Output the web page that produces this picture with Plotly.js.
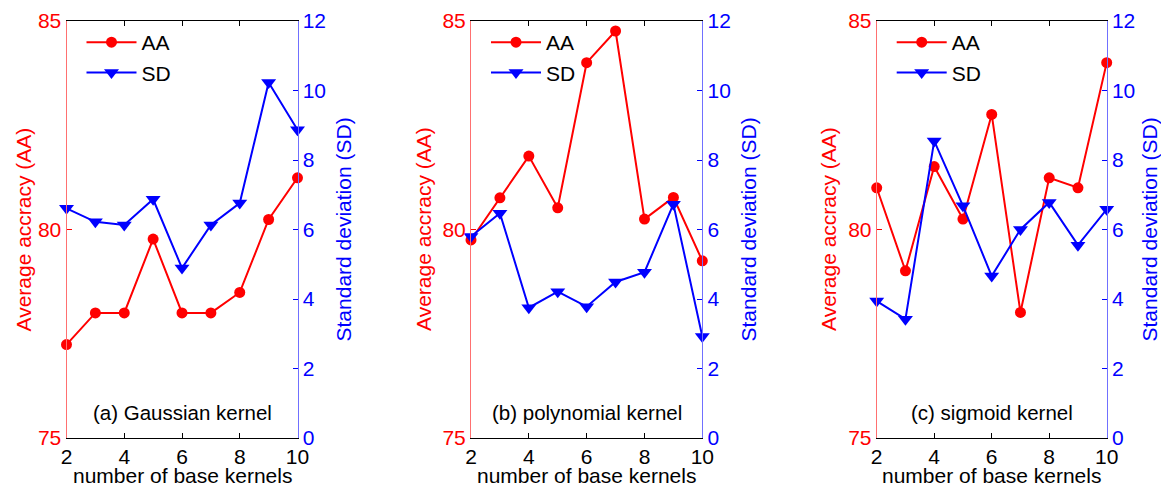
<!DOCTYPE html>
<html>
<head>
<meta charset="utf-8">
<script src="https://cdn.plot.ly/plotly-3.0.1.min.js"></script>
<style>html,body{margin:0;padding:0;background:#fff;}#chart{width:1161px;height:488px;}</style>
</head>
<body>
<div id="chart"></div>
<script>
const numKernels = [2, 3, 4, 5, 6, 7, 8, 9, 10];
const panelLabels = ["(a) Gaussian kernel", "(b) polynomial kernel", "(c) sigmoid kernel"];
const aaGaussian = [77.24, 78.0, 78.0, 79.77, 78.0, 78.0, 78.49, 80.24, 81.24];
const sdGaussian = [6.61, 6.22, 6.13, 6.87, 4.89, 6.13, 6.76, 10.23, 8.87];
const aaPolynomial = [79.75, 80.76, 81.76, 80.52, 84.0, 84.76, 80.25, 80.77, 79.25];
const sdPolynomial = [5.80, 6.47, 3.75, 4.21, 3.78, 4.49, 4.77, 6.73, 2.92];
const aaSigmoid = [81.0, 79.01, 81.51, 80.25, 82.76, 78.01, 81.24, 81.0, 84.0];
const sdSigmoid = [3.94, 3.42, 8.55, 6.68, 4.66, 6.0, 6.78, 5.55, 6.58];
const aaTicks = [75, 80, 85];
const sdTicks = [0, 2, 4, 6, 8, 10, 12];
const xTicks = [2, 4, 6, 8, 10];
const xTitle = "number of base kernels";
const aaTitle = "Average accracy (AA)";
const sdTitle = "Standard deviation (SD)";

const aaSeries = [aaGaussian, aaPolynomial, aaSigmoid];
const sdSeries = [sdGaussian, sdPolynomial, sdSigmoid];

const W = 1161, H = 488;
const FONT = "Liberation Sans, Arial, Helvetica, sans-serif";
const FS = 21;
const RED = "#ff0000", BLUE = "#0000ff";
const panelPx = [[66.5, 297.5], [471, 702.3], [876.7, 1106.7]];
const leftTitlePx = [23, 423.5, 828.5];
const rightTitlePx = [343, 748, 1149];
const yDom = [1 - 438 / H, 1 - 21 / H];

const data = [];
const layout = {
  width: W, height: H,
  margin: {l: 0, r: 0, t: 0, b: 0},
  paper_bgcolor: "#fff", plot_bgcolor: "rgba(0,0,0,0)",
  font: {family: FONT, size: FS, color: "#000"},
  showlegend: true,
  annotations: []
};

for (let i = 0; i < 3; i++) {
  const xa = i === 0 ? "x" : "x" + (i + 1);
  const yL = "y" + (i === 0 ? "" : (2 * i + 1));
  const yR = "y" + (2 * i + 2);
  const legendName = i === 0 ? "legend" : "legend" + (i + 1);
  data.push({
    x: numKernels, y: aaSeries[i], xaxis: xa, yaxis: yL, name: "AA",
    type: "scatter", mode: "lines+markers", cliponaxis: false,
    line: {color: RED, width: 2}, marker: {symbol: "circle", size: 11, color: RED},
    legend: legendName
  });
  data.push({
    x: numKernels, y: sdSeries[i], xaxis: xa, yaxis: yR, name: "SD",
    type: "scatter", mode: "lines+markers", cliponaxis: false,
    line: {color: BLUE, width: 2}, marker: {symbol: "triangle-down", size: 13, color: BLUE},
    legend: legendName
  });
  const dom = [panelPx[i][0] / W, panelPx[i][1] / W];
  const xKey = i === 0 ? "xaxis" : "xaxis" + (i + 1);
  const yLKey = i === 0 ? "yaxis" : "yaxis" + (2 * i + 1);
  const yRKey = "yaxis" + (2 * i + 2);
  layout[xKey] = {
    domain: dom, anchor: yL, range: [2, 10], tickvals: xTicks,
    ticks: "inside", ticklen: 5, tickcolor: "#000", showline: true, linecolor: "#000", linewidth: 1,
    mirror: "ticks", showgrid: false, zeroline: false,
    tickfont: {family: FONT, size: FS, color: "#000"}
  };
  layout[yLKey] = {
    domain: yDom, anchor: xa, range: [75, 85], tickvals: aaTicks,
    ticks: "inside", ticklen: 5, tickcolor: RED, showline: true, linecolor: "#ff7070", linewidth: 1,
    showgrid: false, zeroline: false,
    tickfont: {family: FONT, size: FS, color: RED}
  };
  layout[yRKey] = {
    domain: yDom, anchor: xa, overlaying: yL, side: "right", range: [0, 12], tickvals: sdTicks,
    ticks: "inside", ticklen: 5, tickcolor: BLUE, showline: true, linecolor: "#7070ff", linewidth: 1,
    showgrid: false, zeroline: false,
    tickfont: {family: FONT, size: FS, color: BLUE}
  };
  layout[legendName] = {
    x: dom[0] + 15 / W, y: yDom[1] - 1 / H, xanchor: "left", yanchor: "top",
    bgcolor: "rgba(0,0,0,0)", borderwidth: 0,
    font: {family: FONT, size: FS, color: "#000"}, itemwidth: 50, tracegroupgap: 0
  };
  layout.annotations.push({
    xref: xa + " domain", yref: yL + " domain", x: 0.5, y: 0.06,
    xanchor: "center", yanchor: "middle", showarrow: false,
    text: panelLabels[i], font: {family: FONT, size: 20.5, color: "#000"}
  });
  layout.annotations.push({
    xref: "paper", yref: "paper", x: (panelPx[i][0] + panelPx[i][1]) / 2 / W, y: 0,
    xanchor: "center", yanchor: "bottom", showarrow: false, borderpad: 0,
    text: xTitle, font: {family: FONT, size: FS, color: "#000"}
  });
  layout.annotations.push({
    xref: "paper", yref: "paper", x: leftTitlePx[i] / W, y: (yDom[0] + yDom[1]) / 2,
    xanchor: "center", yanchor: "middle", showarrow: false, textangle: -90,
    text: aaTitle, font: {family: FONT, size: FS, color: RED}
  });
  layout.annotations.push({
    xref: "paper", yref: "paper", x: rightTitlePx[i] / W, y: (yDom[0] + yDom[1]) / 2,
    xanchor: "center", yanchor: "middle", showarrow: false, textangle: -90,
    text: sdTitle, font: {family: FONT, size: FS, color: BLUE}
  });
}

Plotly.newPlot("chart", data, layout, {displayModeBar: false, staticPlot: true});
</script>
</body>
</html>
